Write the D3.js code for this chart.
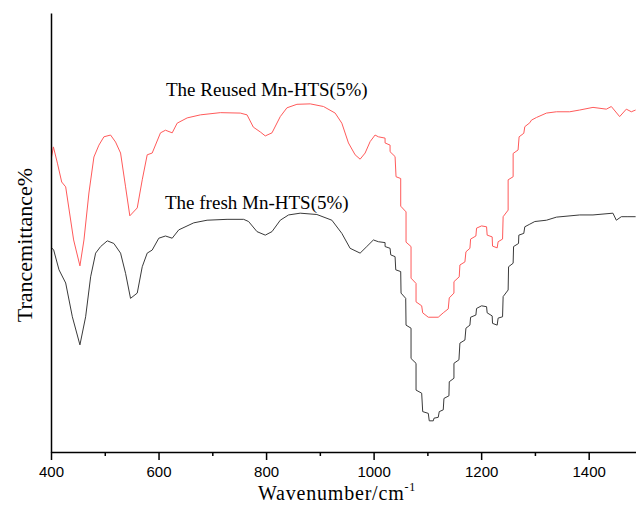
<!DOCTYPE html>
<html>
<head>
<meta charset="utf-8">
<script src="https://cdn.jsdelivr.net/npm/d3@7"></script>
<style>
  body { margin: 0; background: #fff; }
  svg { display: block; }
  .tick text { font-family: "Liberation Sans", Arial, sans-serif; font-size: 15px; }
  .serif { font-family: "Liberation Serif", "Times New Roman", serif; }
</style>
</head>
<body>
<div class="chart"></div>
<script>
// wavenumber (cm-1) and transmittance (arbitrary %)
const reusedWave = [401, 404.5, 411.9, 419.9, 427.3, 432.9, 442.1, 453.8, 461.3, 470.5, 479.8, 489.1, 498.4, 510.8, 520.1, 529.4, 538.7, 546.6, 560.4, 569.7, 578.9, 588.2, 603.6, 612.9, 625.4, 634.6, 653.2, 677.9, 715, 752.1, 764.6, 776.3, 789.3, 798.5, 811, 826.4, 838.8, 857.4, 882.1, 906.8, 928.5, 940.9, 953.2, 965.6, 974.9, 984.2, 993.5, 1002.7, 1008.9,
  1021.3, 1021.3, 1030.6, 1030.6, 1039.9, 1041.7, 1050.4, 1050.4, 1060.3, 1060.3, 1069.6, 1069.6, 1078.9, 1078.9, 1089.4, 1091.3, 1101.7, 1120.2, 1129.5, 1138.8, 1140.7, 1149.4, 1149.4, 1159.2, 1160.5, 1169.8, 1171.7, 1179.1, 1180.4, 1190.2, 1191.5, 1200.8, 1210.1, 1211.2, 1220.5, 1221.2, 1229.8, 1231.6, 1239.8, 1240.9, 1250.2, 1250.2, 1259.5, 1259.5, 1268.7, 1270.6, 1279.3, 1281.2, 1290.5, 1293.6, 1302.9, 1321.5, 1340, 1364.7, 1383.3, 1408, 1432.9, 1442.1, 1457.6, 1470, 1479.3, 1487.3];
const reusedT = [67.2, 69.5, 65.8, 61.5, 60.4, 55.8, 48.3, 42.4, 48.3, 59.0, 67.2, 69.9, 71.8, 72.2, 70.6, 68.1, 60.4, 53.8, 55.6, 62.0, 67.7, 68.1, 72.7, 73.3, 72.7, 74.9, 76.1, 76.8, 77.3, 77.2, 76.8, 74.0, 72.9, 72.0, 72.7, 76.4, 78.4, 79.2, 79.3, 78.7, 77.2, 74.9, 70.4, 67.7, 66.7, 68.1, 70.7, 72.2, 71.8,
  71.5, 70.4, 69.9, 68.4, 67.3, 62.7, 62.3, 56.0, 54.7, 47.8, 46.8, 39.6, 38.4, 34.2, 33.3, 31.7, 30.7, 30.7, 31.7, 32.6, 35.1, 36.2, 38.8, 39.9, 42.6, 43.3, 45.6, 46.4, 48.5, 49.2, 51.0, 51.5, 51.3, 49.4, 49.0, 46.9, 46.5, 47.9, 48.5, 53.6, 55.1, 62.0, 62.7, 68.0, 68.8, 71.8, 72.6, 74.1, 75.0, 75.6, 76.2, 77.2, 77.5, 77.5, 77.9, 78.5, 78.1, 78.7, 76.4, 78.1, 77.5, 77.9];

const freshWave = [401.3, 405, 414.9, 427.3, 439.7, 453.8, 464.4, 473.7, 483, 492.3, 504.7, 516.9, 529.4, 538.7, 547.9, 560.4, 569.7, 578.9, 588.2, 600.5, 612.9, 625.4, 637.6, 665.5, 690.3, 727.4, 758.3, 767.5, 783.1, 798.5, 811, 826.4, 841.8, 863.5, 894.5, 922.4, 940.9, 956.3, 974.9, 987.3, 999.6, 1008.9,
  1021.3, 1021.3, 1030.6, 1031.9, 1039.9, 1041.2, 1050.4, 1051, 1059.7, 1060.3, 1069.6, 1069.6, 1078.9, 1078.9, 1089.4, 1091.3, 1101.7, 1103.5, 1111, 1112.3, 1120.2, 1122.1, 1129.5, 1130.8, 1140.1, 1140.7, 1149.4, 1149.4, 1158.7, 1160.5, 1169.8, 1171.7, 1179.1, 1180.4, 1190.2, 1191.5, 1200.8, 1210.1, 1211.2, 1220.5, 1221.2, 1229.8, 1231.6, 1239.8, 1240.9, 1250.2, 1251, 1259.5, 1260.3, 1269.5, 1270.1, 1279.3, 1281.2, 1290.5, 1299.8, 1321.5, 1340, 1383.3, 1408, 1445.1, 1451.4, 1460.7, 1473, 1487.3];
const freshT = [46.5, 46.0, 41.5, 38.5, 30.8, 24.4, 30.8, 39.9, 45.3, 46.8, 48.1, 47.5, 45.3, 40.7, 35.0, 36.2, 42.2, 45.3, 46.0, 48.7, 49.2, 48.7, 50.6, 52.2, 52.8, 53.0, 53.0, 52.5, 50.2, 49.4, 50.2, 52.8, 54.0, 54.4, 54.1, 52.8, 49.8, 46.4, 45.3, 46.8, 48.3, 47.9,
  47.7, 46.8, 46.4, 44.9, 44.5, 41.5, 41.1, 36.2, 35.0, 28.9, 28.2, 21.3, 20.2, 14.1, 13.4, 9.2, 8.8, 7.1, 7.1, 7.7, 7.9, 9.2, 9.6, 12.2, 12.8, 16.0, 16.8, 20.2, 21.0, 24.8, 25.5, 28.2, 28.9, 30.7, 31.2, 32.7, 33.3, 33.1, 31.7, 31.0, 29.3, 28.9, 30.5, 30.8, 35.4, 36.9, 42.2, 43.0, 46.8, 47.5, 49.4, 49.8, 51.3, 51.9, 52.5, 52.8, 53.5, 54.0, 54.0, 54.4, 52.8, 53.6, 53.6, 53.6];

const xTicks = [400, 600, 800, 1000, 1200, 1400];
const xMinor = [500, 700, 900, 1100, 1300];

const seriesNames = ["The Reused Mn-HTS(5%)", "The fresh Mn-HTS(5%)"];
const seriesColors = ["#ff5a5a", "#3a3a3a"];

const width = 636, height = 511;
const margin = { top: 13, right: 0, bottom: 59, left: 51 };

const svg = d3.select(".chart").append("svg")
  .attr("width", width)
  .attr("height", height);

const xScale = d3.scaleLinear().domain([400, 1488]).range([margin.left, width - margin.right]);
const yScale = d3.scaleLinear().domain([0, 100]).range([height - margin.bottom, margin.top]);

const line = d3.line()
  .x((d) => xScale(d[0]))
  .y((d) => yScale(d[1]));

const reused = reusedWave.map((w, i) => [w, reusedT[i]]);
const fresh = freshWave.map((w, i) => [w, freshT[i]]);

svg.append("path")
  .datum(reused)
  .attr("fill", "none")
  .attr("stroke", seriesColors[0])
  .attr("stroke-width", 1)
  .attr("d", line);

svg.append("path")
  .datum(fresh)
  .attr("fill", "none")
  .attr("stroke", seriesColors[1])
  .attr("stroke-width", 1)
  .attr("d", line);

// minor ticks
svg.append("g")
  .attr("transform", `translate(0, ${height - margin.bottom})`)
  .call(d3.axisBottom(xScale).tickValues(xMinor).tickSize(4).tickFormat(""))
  .call((g) => g.select(".domain").remove())
  .call((g) => g.selectAll("line").attr("stroke-width", 1.5));

const xAxis = d3.axisBottom(xScale).tickValues(xTicks).tickFormat(d3.format("d"))
  .tickSize(8).tickSizeOuter(0).tickPadding(6);
svg.append("g")
  .attr("class", "axis x-axis")
  .attr("transform", `translate(0, ${height - margin.bottom})`)
  .call(xAxis)
  .call((g) => g.select(".domain").attr("stroke-width", 1.5))
  .call((g) => g.selectAll(".tick line").attr("stroke-width", 1.5));

svg.append("g")
  .attr("class", "axis y-axis")
  .attr("transform", `translate(${margin.left}, 0)`)
  .call(d3.axisLeft(yScale).tickValues([]).tickSizeOuter(0))
  .call((g) => g.select(".domain").attr("stroke-width", 1.5));

// series labels
svg.append("text")
  .attr("class", "serif")
  .attr("x", 166)
  .attr("y", 96)
  .attr("font-size", 19)
  .text(seriesNames[0]);

svg.append("text")
  .attr("class", "serif")
  .attr("x", 165)
  .attr("y", 209)
  .attr("font-size", 19)
  .text(seriesNames[1]);

// axis titles
const xt = svg.append("text")
  .attr("class", "serif")
  .attr("x", 258)
  .attr("y", 500)
  .attr("font-size", 20)
  .attr("letter-spacing", 0.8);
xt.append("tspan").text("Wavenumber/cm");
xt.append("tspan").attr("font-size", 12).attr("dy", -9).text("-1");

svg.append("text")
  .attr("class", "serif")
  .attr("transform", "translate(32, 245) rotate(-90)")
  .attr("text-anchor", "middle")
  .attr("font-size", 22)
  .text("Trancemittance%");
</script>
</body>
</html>
